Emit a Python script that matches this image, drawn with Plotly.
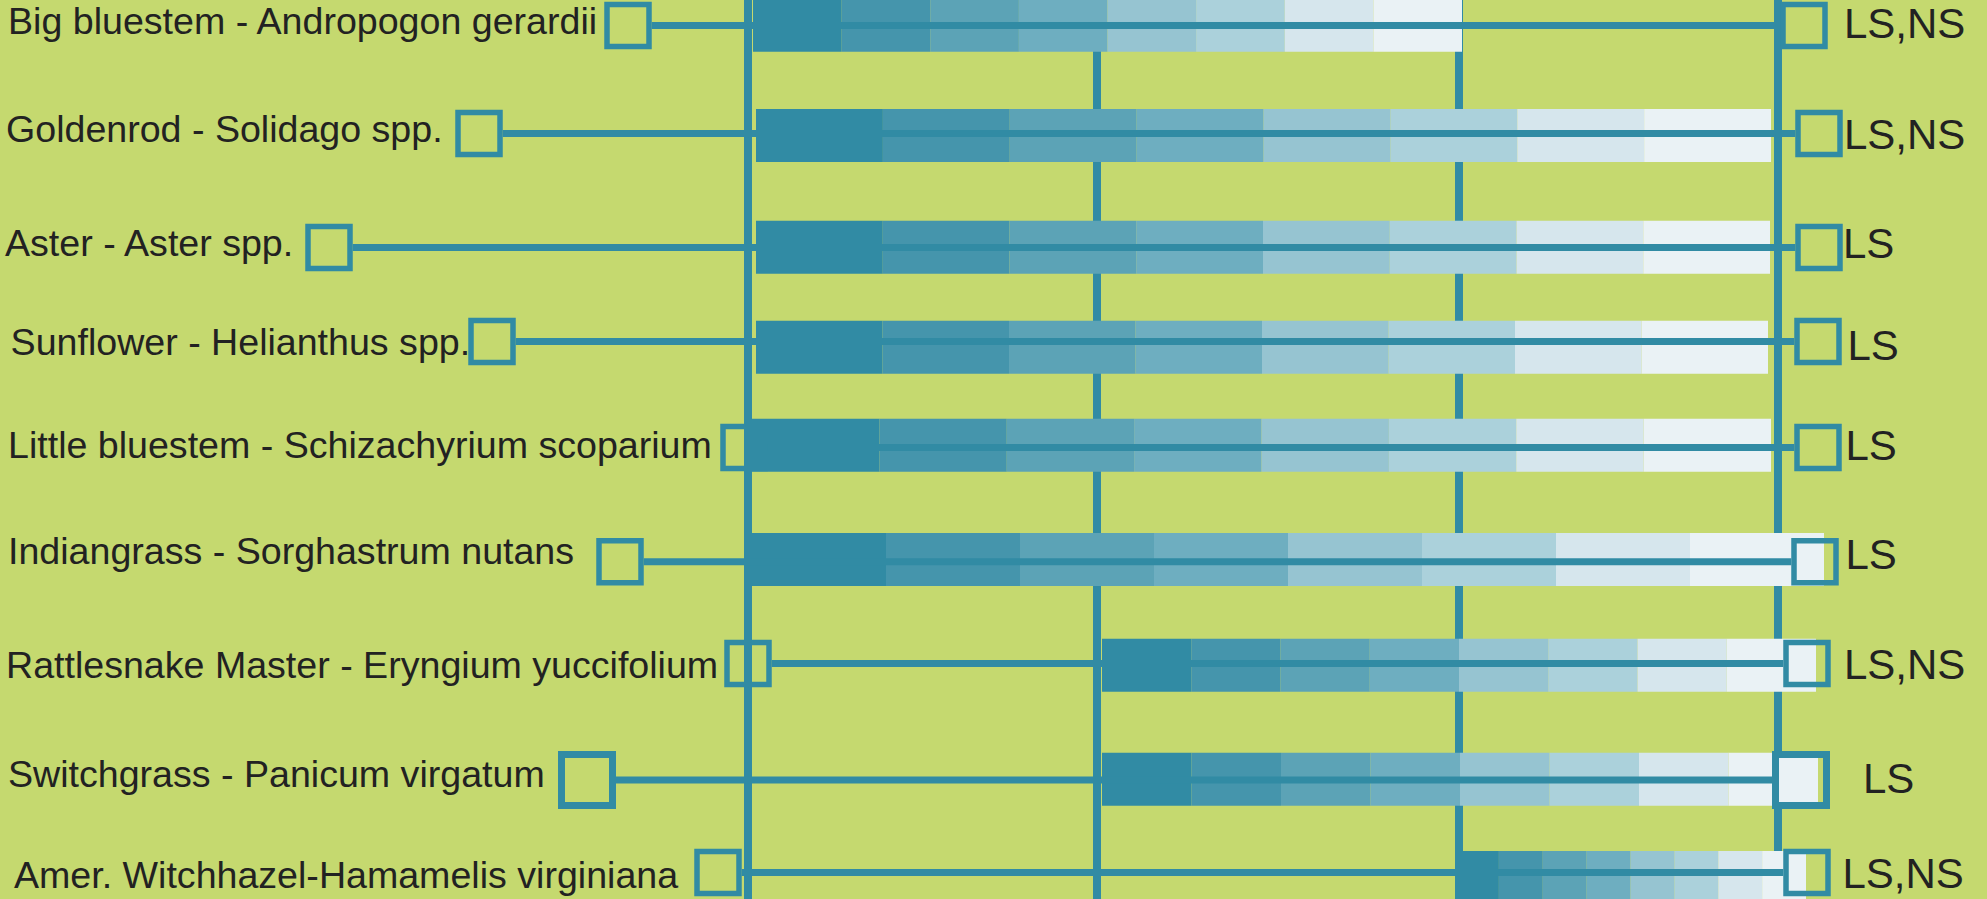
import plotly.graph_objects as go

# ---------------- data ----------------
species = [
    "Big bluestem - Andropogon gerardii",
    "Goldenrod - Solidago spp.",
    "Aster - Aster spp.",
    "Sunflower - Helianthus spp.",
    "Little bluestem - Schizachyrium scoparium",
    "Indiangrass - Sorghastrum nutans",
    "Rattlesnake Master - Eryngium yuccifolium",
    "Switchgrass - Panicum virgatum",
    "Amer. Witchhazel-Hamamelis virginiana",
]
notes = ["LS,NS", "LS,NS", "LS", "LS", "LS", "LS", "LS,NS", "LS", "LS,NS"]

# shaded period (8 equal steps from dark to light)
bar_start = [753, 756, 756, 756, 752, 752, 1102, 1102, 1455]
bar_end = [1462, 1771, 1770, 1768, 1771, 1824, 1816, 1818, 1806]

# whisker range (open squares at both ends)
range_start = [628, 479, 329, 492, 744, 620, 748, 587, 718]
range_end = [1804, 1819, 1819, 1818, 1818, 1815, 1807, 1801, 1807]

# row positions
row_y = [25.5, 133.5, 247.5, 341.5, 447.5, 561.7, 663.5, 780, 872.5]
bar_y = [25.3, 135.5, 247.3, 347.3, 445.3, 559.5, 665.3, 779.2, 877.5]

# vertical reference lines
gridline_x = [748, 1097, 1459, 1778]

# ---------------- text placement ----------------
label_x = [8, 6, 5, 10.6, 8, 8, 6, 8, 14]
label_y = [25, 133, 246.5, 346, 448.5, 554.5, 668.5, 778, 878.5]
note_x = [1844, 1844, 1843, 1847.5, 1845.5, 1845.5, 1844, 1863, 1842.5]
note_y = [27, 138.5, 247.5, 349, 449, 558.5, 668, 782.5, 877]

# ---------------- styles ----------------
W, H = 1987, 899
BG = "#c5d96f"
TEAL = "#318ba4"
SEG_COLORS = ["#318ba4", "#4595ac", "#5ca3b6", "#6eaec0",
              "#96c4d1", "#abd1db", "#d6e6ed", "#eaf2f5"]
N_SEG = len(SEG_COLORS)
BAR_H = 53
marker_size = [42, 42, 42, 42, 42, 42, 42, 51, 42]
marker_lw = [5.5, 5.5, 5.5, 5.5, 5.5, 5.5, 5.5, 7, 5.5]
FONT = "Liberation Sans, Arial, sans-serif"

fig = go.Figure()

# --- base layer: left open squares, then vertical reference lines ---
fig.add_trace(go.Scatter(
    x=range_start, y=row_y, mode="markers",
    marker=dict(symbol="square-open", size=marker_size, color=TEAL, opacity=1,
                line=dict(width=marker_lw, color=TEAL)),
    xaxis="x", yaxis="y", hoverinfo="skip", cliponaxis=False))

gx, gy = [], []
for g in gridline_x:
    gx += [g, g, None]
    gy += [-20, H + 20, None]
fig.add_trace(go.Scatter(
    x=gx, y=gy, mode="lines", line=dict(color=TEAL, width=8),
    xaxis="x", yaxis="y", hoverinfo="skip"))

# --- overlay layer: shaded bars, connector lines, right squares, text ---
seg_w = [(e - s) / N_SEG for s, e in zip(bar_start, bar_end)]
for k in range(N_SEG):
    fig.add_trace(go.Bar(
        y=bar_y, x=seg_w,
        base=[s + k * w for s, w in zip(bar_start, seg_w)],
        orientation="h", width=BAR_H,
        marker=dict(color=SEG_COLORS[k], line=dict(width=0)),
        xaxis="x2", yaxis="y2", hoverinfo="skip"))

cx, cy = [], []
for s, e, y, ms, lw in zip(range_start, range_end, row_y, marker_size, marker_lw):
    half = (ms + lw) / 2
    cx += [s + half, e - half, None]
    cy += [y, y, None]
fig.add_trace(go.Scatter(
    x=cx, y=cy, mode="lines", line=dict(color=TEAL, width=7),
    xaxis="x2", yaxis="y2", hoverinfo="skip"))

fig.add_trace(go.Scatter(
    x=range_end, y=row_y, mode="markers",
    marker=dict(symbol="square-open", size=marker_size, color=TEAL, opacity=1,
                line=dict(width=marker_lw, color=TEAL)),
    xaxis="x2", yaxis="y2", hoverinfo="skip", cliponaxis=False))

fig.add_trace(go.Scatter(
    x=label_x, y=label_y, mode="text", text=species,
    textposition="middle right",
    textfont=dict(family=FONT, size=37.6, color="#222222"),
    xaxis="x2", yaxis="y2", hoverinfo="skip", cliponaxis=False))

fig.add_trace(go.Scatter(
    x=note_x, y=note_y, mode="text", text=notes,
    textposition="middle right",
    textfont=dict(family=FONT, size=42, color="#222222"),
    xaxis="x2", yaxis="y2", hoverinfo="skip", cliponaxis=False))

axis_common = dict(visible=False, showgrid=False, zeroline=False, fixedrange=True)
fig.update_layout(
    width=W, height=H,
    margin=dict(l=0, r=0, t=0, b=0),
    paper_bgcolor=BG, plot_bgcolor=BG,
    showlegend=False, barmode="overlay",
    xaxis=dict(range=[0, W], **axis_common),
    yaxis=dict(range=[H, 0], **axis_common),
    xaxis2=dict(range=[0, W], overlaying="x", **axis_common),
    yaxis2=dict(range=[H, 0], overlaying="y", **axis_common),
)

fig.write_html(
    "out.html",
    config={"displayModeBar": False, "staticPlot": True},
    post_script="document.body.style.margin='0';document.body.style.background='" + BG + "';",
)
